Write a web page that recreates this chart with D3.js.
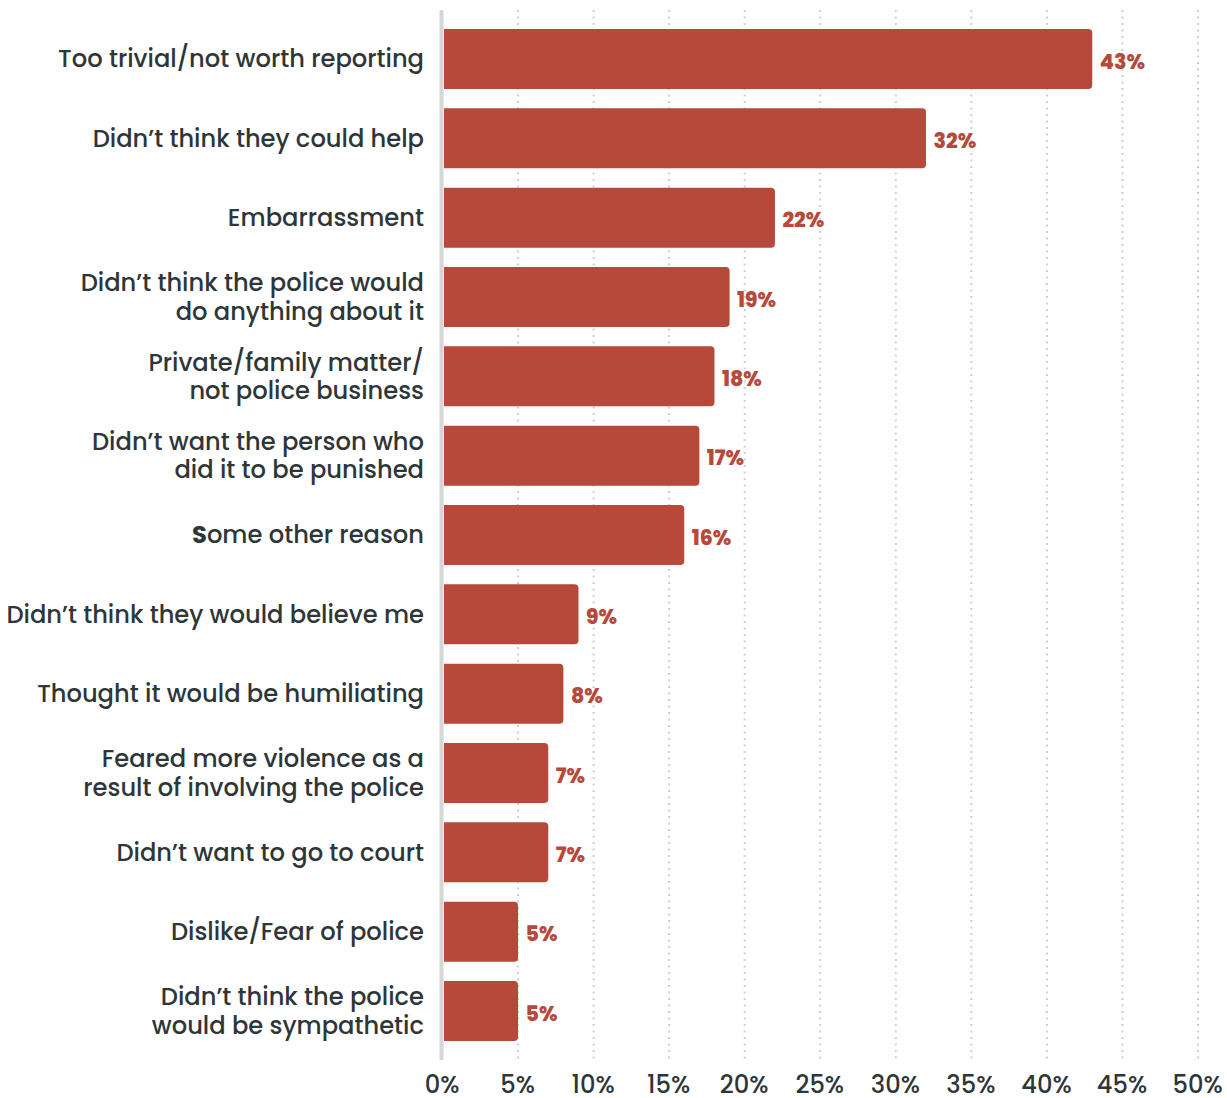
<!DOCTYPE html>
<html>
<head>
<meta charset="utf-8">
<script src="https://cdn.jsdelivr.net/npm/d3@7"></script>
<style>
  html, body { margin: 0; padding: 0; background: #ffffff; }
  svg { display: block; }
</style>
</head>
<body>
<svg id="chart" width="1227" height="1098"></svg>
<script>
// Reasons for not reporting to the police (share of respondents)
const categories = [
  ["Too trivial/not worth reporting"],
  ["Didn\u2019t think they could help"],
  ["Embarrassment"],
  ["Didn\u2019t think the police would", "do anything about it"],
  ["Private/family matter/", "not police business"],
  ["Didn\u2019t want the person who", "did it to be punished"],
  ["Some other reason"],
  ["Didn\u2019t think they would believe me"],
  ["Thought it would be humiliating"],
  ["Feared more violence as a", "result of involving the police"],
  ["Didn\u2019t want to go to court"],
  ["Dislike/Fear of police"],
  ["Didn\u2019t think the police", "would be sympathetic"]
];
const values = [43, 32, 22, 19, 18, 17, 16, 9, 8, 7, 7, 5, 5];
const tickValues = [0, 5, 10, 15, 20, 25, 30, 35, 40, 45, 50];

const svg = d3.select("#chart");
const fontFamily = "Poppins, 'Open Sans', 'DejaVu Sans', sans-serif";
const barColor = "#b7493a";
const textColor = "#2e3638";

const plotLeft = 442.5, plotRight = 1198;
const plotTop = 29, plotBottom = 1041;

const x = d3.scaleLinear().domain([0, 50]).range([plotLeft, plotRight]);
const y = d3.scaleBand()
  .domain(d3.range(values.length))
  .range([plotTop, plotBottom])
  .paddingInner(0.244)
  .paddingOuter(0);

// dotted grid lines
svg.append("g")
  .selectAll("line")
  .data(tickValues.slice(1))
  .join("line")
  .attr("x1", d => x(d)).attr("x2", d => x(d))
  .attr("y1", 10).attr("y2", 1060)
  .attr("stroke", "#cfcfcf")
  .attr("stroke-width", 2)
  .attr("stroke-dasharray", "2,4.5");

// bars, square on the left, rounded on the right
const r = 4;
svg.append("g")
  .selectAll("path")
  .data(values)
  .join("path")
  .attr("fill", barColor)
  .attr("d", (d, i) => {
    const x0 = x(0) + 1.5, x1 = x(d), y0 = y(i), h = y.bandwidth();
    return `M${x0},${y0}H${x1 - r}Q${x1},${y0} ${x1},${y0 + r}` +
           `V${y0 + h - r}Q${x1},${y0 + h} ${x1 - r},${y0 + h}H${x0}Z`;
  });

// baseline axis
svg.append("line")
  .attr("x1", x(0) - 1).attr("x2", x(0) - 1)
  .attr("y1", 10).attr("y2", 1060)
  .attr("stroke", "#d6d6d6")
  .attr("stroke-width", 4);

// value labels
svg.append("g")
  .selectAll("text")
  .data(values)
  .join("text")
  .attr("x", d => x(d) + 7.5)
  .attr("y", (d, i) => y(i) + y.bandwidth() / 2 + 2.5)
  .attr("dy", "0.35em")
  .attr("fill", barColor)
  .attr("font-family", fontFamily)
  .attr("font-weight", 800)
  .attr("font-size", 20.5)
  .text(d => d + "%");

// category labels
const labelSize = 24.2;
const labels = svg.append("g")
  .selectAll("text")
  .data(categories)
  .join("text")
  .attr("x", 424)
  .attr("text-anchor", "end")
  .attr("fill", textColor)
  .attr("font-family", fontFamily)
  .attr("font-weight", 500)
  .attr("font-size", labelSize);

labels.each(function(lines, i) {
  const t = d3.select(this);
  const cy = y(i) + y.bandwidth() / 2;
  const lh = 28.5;
  lines.forEach((line, k) => {
    const ty = cy + (k - (lines.length - 1) / 2) * lh;
    if (line === "Some other reason") {
      t.append("tspan").attr("x", 424).attr("y", ty).attr("dy", "0.35em")
        .attr("font-weight", 700).text("S");
      t.append("tspan").text("ome other reason");
    } else {
      t.append("tspan").attr("x", 424).attr("y", ty).attr("dy", "0.35em").text(line);
    }
  });
});

// x axis tick labels
const xAxis = d3.axisBottom(x)
  .tickValues(tickValues)
  .tickFormat(d => d + "%")
  .tickSize(0)
  .tickPadding(0);

const gx = svg.append("g")
  .attr("transform", "translate(-1,1093)")
  .call(xAxis);
gx.select(".domain").remove();
gx.selectAll("text")
  .attr("dy", 0)
  .attr("fill", textColor)
  .attr("font-family", fontFamily)
  .attr("font-weight", 500)
  .attr("font-size", 24.2);
</script>
</body>
</html>
